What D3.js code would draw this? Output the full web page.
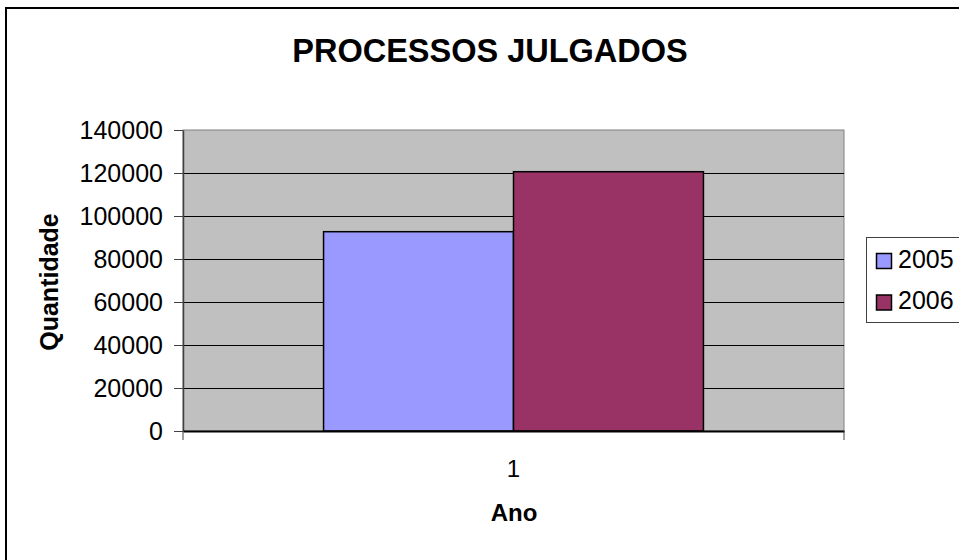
<!DOCTYPE html>
<html>
<head>
<meta charset="utf-8">
<script src="https://cdn.jsdelivr.net/npm/d3@7"></script>
<style>
  html, body { margin: 0; padding: 0; background: #fff; overflow: hidden; }
  svg { display: block; font-family: "Liberation Sans", Arial, sans-serif; }
</style>
</head>
<body>
<svg id="chart" width="959" height="560"></svg>
<script>
const title = "PROCESSOS JULGADOS";
const categories = ["1"];
const seriesNames = ["2005", "2006"];
const seriesValues = [92700, 120600];
const seriesColors = ["#9999FF", "#993366"];
const yTicks = [0, 20000, 40000, 60000, 80000, 100000, 120000, 140000];
const yLabel = "Quantidade";
const xLabel = "Ano";

const svg = d3.select("#chart");

// outer chart frame
svg.append("rect").attr("x", 6).attr("y", 8).attr("width", 1000).attr("height", 600)
  .attr("fill", "#fff").attr("stroke", "#000").attr("stroke-width", 2);

const plot = { left: 183, right: 844, top: 130, bottom: 431 };

const y = d3.scaleLinear().domain([0, 140000]).range([plot.bottom, plot.top]);
const x0 = d3.scaleBand().domain(categories).range([plot.left, plot.right])
  .paddingInner(0).paddingOuter(0.37);
const x1 = d3.scaleBand().domain(seriesNames).range([0, x0.bandwidth()]).padding(0);

// plot background
svg.append("rect").attr("x", plot.left).attr("y", plot.top)
  .attr("width", plot.right - plot.left).attr("height", plot.bottom - plot.top)
  .attr("fill", "#C0C0C0").attr("stroke", "#808080").attr("stroke-width", 1);

// gridlines
svg.append("g").selectAll("line").data(yTicks.filter(d => d > 0 && d < 140000)).join("line")
  .attr("x1", plot.left).attr("x2", plot.right)
  .attr("y1", d => Math.round(y(d)) + 0.5).attr("y2", d => Math.round(y(d)) + 0.5)
  .attr("stroke", "#000").attr("stroke-width", 1);

// bars
const rows = seriesNames.map((s, i) => ({ cat: categories[0], name: s, value: seriesValues[i], color: seriesColors[i] }));
svg.append("g").selectAll("rect").data(rows).join("rect")
  .attr("x", d => x0(d.cat) + x1(d.name))
  .attr("y", d => y(d.value))
  .attr("width", x1.bandwidth())
  .attr("height", d => y(0) - y(d.value))
  .attr("fill", d => d.color)
  .attr("stroke", "#000").attr("stroke-width", 1.5);

// y axis
const yAxis = d3.axisLeft(y).tickValues(yTicks).tickSize(9).tickSizeOuter(0).tickFormat(d3.format("d"));
const gy = svg.append("g").attr("transform", `translate(${plot.left},0)`).call(yAxis);
gy.select(".domain").attr("stroke", "#404040").attr("stroke-width", 1.5);
gy.selectAll(".tick line").attr("stroke", "#404040");
gy.selectAll(".tick text").attr("font-size", 25).attr("fill", "#000").attr("x", -20)
  .attr("font-family", "Liberation Sans, Arial, sans-serif");

// x axis
const xAxis = d3.axisBottom(x0).tickSize(0).tickSizeOuter(0);
const gx = svg.append("g").attr("transform", `translate(0,${plot.bottom})`).call(xAxis);
gx.select(".domain").attr("stroke", "#000").attr("stroke-width", 2);
gx.selectAll(".tick text").attr("font-size", 24).attr("fill", "#000").attr("dy", 0).attr("y", 46)
  .attr("font-family", "Liberation Sans, Arial, sans-serif");
// category boundary ticks
svg.append("g").selectAll("line").data([plot.left, plot.right]).join("line")
  .attr("x1", d => d).attr("x2", d => d).attr("y1", plot.bottom).attr("y2", plot.bottom + 9)
  .attr("stroke", "#404040").attr("stroke-width", 1);

// title
svg.append("text").attr("x", 490).attr("y", 62).attr("text-anchor", "middle")
  .attr("font-size", 32.5).attr("font-weight", "bold").text(title);

// axis titles
svg.append("text").attr("x", 514).attr("y", 521).attr("text-anchor", "middle")
  .attr("font-size", 24).attr("font-weight", "bold").text(xLabel);
svg.append("text").attr("transform", "translate(58,282) rotate(-90)").attr("text-anchor", "middle")
  .attr("font-size", 25).attr("font-weight", "bold").text(yLabel);

// legend
const lg = svg.append("g");
lg.append("rect").attr("x", 866.5).attr("y", 237.5).attr("width", 200).attr("height", 85)
  .attr("fill", "#fff").attr("stroke", "#404040").attr("stroke-width", 1);
const items = lg.selectAll("g.item").data(rows).join("g").attr("class", "item")
  .attr("transform", (d, i) => `translate(0,${i * 41.5})`);
items.append("rect").attr("x", 876.5).attr("y", 253.5).attr("width", 15).attr("height", 15)
  .attr("fill", d => d.color).attr("stroke", "#000").attr("stroke-width", 1.5);
items.append("text").attr("x", 898).attr("y", 267.5).attr("font-size", 25).text(d => d.name);
</script>
</body>
</html>
